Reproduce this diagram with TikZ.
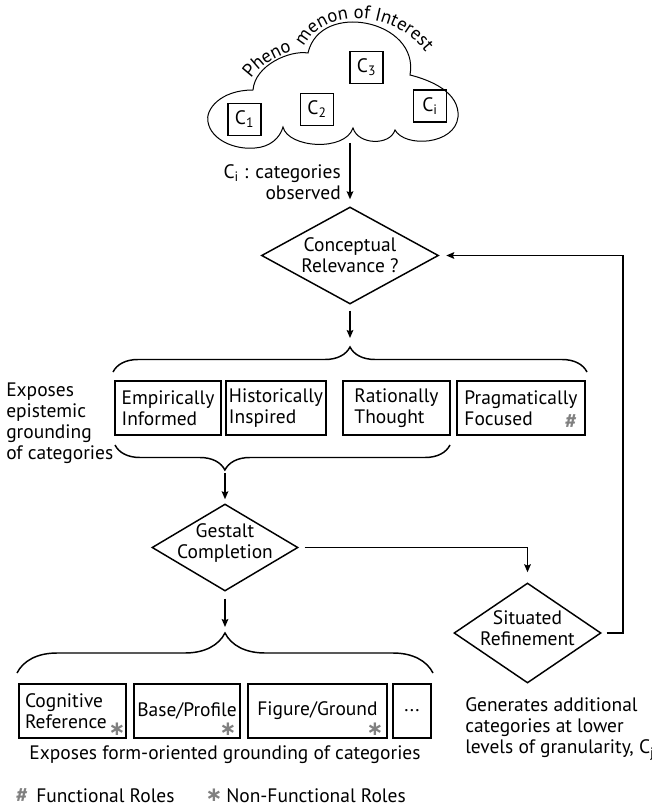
\documentclass[tikz,border=0pt]{standalone}
\usepackage{fontspec}
\setmainfont{PT Sans}
\newfontfamily\markfont{DejaVu Sans}
\usetikzlibrary{shapes.geometric, arrows.meta, decorations.pathreplacing, decorations.text}
\definecolor{markgray}{RGB}{128,128,128}
\newcommand{\cloudfont}{\fontsize{14}{15}\selectfont}

\begin{document}
\begin{tikzpicture}[x=0.75pt, y=-0.75pt,
    font=\fontsize{14.6}{15.75}\selectfont,
    decision/.style={diamond, draw, line width=1.1pt, inner sep=0pt},
    dlabel/.style={align=center, inner sep=0pt},
    block/.style={rectangle, draw, line width=1.1pt, minimum height=40.5pt, inner sep=0pt, align=left},
    catbox/.style={rectangle, draw, line width=1pt, minimum width=24.75pt, minimum height=24pt, inner sep=0pt},
    note/.style={inner sep=0pt},
    rolemark/.style={text=markgray, font=\fontsize{16}{16}\selectfont\bfseries, inner sep=0pt},
    astmark/.style={text=markgray, font=\markfont\fontsize{15}{15}\selectfont\bfseries, inner sep=0pt},
    line/.style={draw, line width=1.1pt, -{Stealth[length=6pt, width=5pt, inset=1pt]}},
    brace/.style={draw, line width=1.1pt, decorate, decoration={brace, amplitude=#1}}]
    \useasboundingbox (0,0) rectangle (652,809);

    % cloud of observed categories
    \draw[line width=0.75pt] (253,90) .. controls (220,90) and (205,110) .. (208,122)
        .. controls (211,140) and (235,150) .. (255,148)
        .. controls (270,147) and (280,138) .. (283,127)
        .. controls (288,148) and (345,152) .. (353,128)
        .. controls (358,145) and (390,146) .. (395,130)
        .. controls (405,148) and (455,145) .. (458,117)
        .. controls (460,92) and (430,80) .. (410,75)
        .. controls (420,20) and (320,0) .. (308,53)
        .. controls (290,50) and (255,65) .. (253,90) -- cycle;
    \path[decorate, decoration={text along path, text={|\cloudfont|Pheno}}]
        (251,79) .. controls (263,62) and (283,52) .. (306,48);
    \path[decorate, decoration={text along path, text={|\cloudfont|menon of Interest}}]
        (304,47) .. controls (320,10) and (395,5) .. (430,58);

    \node[catbox] (c_one) at (244.5,119.5) {C\textsubscript{1}};
    \node[catbox] (c_two) at (317,109.5) {C\textsubscript{2}};
    \node[catbox] (c_three) at (366.5,67.5) {C\textsubscript{3}};
    \node[catbox] (c_i) at (430,106) {C\textsubscript{i}};
    \coordinate (cloud_base) at (350,143);
    \node[note, align=right, anchor=east] (observed) at (341,182) {C\textsubscript{i} : categories\\observed};

    % decisions
    \node[decision, minimum width=132.75pt, minimum height=72.75pt] (concept) at (350,255.5) {};
    \node[dlabel] (concept_lbl) at (concept) {Conceptual\\Relevance ?};
    \node[decision, minimum width=109.5pt, minimum height=65.25pt] (gestalt) at (225,547.5) {};
    \node[dlabel] (gestalt_lbl) at (225,543.5) {Gestalt\\Completion};
    \node[decision, minimum width=110.25pt, minimum height=75pt] (situated) at (527.5,633) {};
    \node[dlabel] (situated_lbl) at (527.5,628) {Situated\\Refinement};

    % epistemic grounding
    \node[block, minimum width=79.5pt] (emp_informed) at (168,408) {Empirically\\Informed};
    \node[block, minimum width=75pt] (hist_inspired) at (276,408) {Historically\\Inspired};
    \node[block, minimum width=80.25pt] (rat_thought) at (396.5,408) {Rationally\\Thought};
    \node[block, minimum width=96pt] (prag_focused) at (521,408) {Pragmatically\\Focused};
    \node[rolemark] (prag_mark) at (571,422) {\#};
    \node[note, align=left, anchor=west] (epi_note) at (6,423) {Exposes\\epistemic\\grounding\\of categories};

    % form-oriented grounding
    \node[block, minimum width=80.25pt, text width=71.25pt] (cog_ref) at (72.5,711) {Cognitive\\Reference};
    \node[block, minimum width=79.5pt] (base_profile) at (187,711) {Base/Profile};
    \node[block, minimum width=104.25pt] (fig_ground) at (317.5,711) {Figure/Ground};
    \node[block, minimum width=28.5pt] (more_forms) at (412,711) {...};
    \node[astmark] (cog_mark) at (117,729) {∗};
    \node[astmark] (base_mark) at (228,729) {∗};
    \node[astmark] (fig_mark) at (375,729) {∗};
    \node[note] (form_note) at (225,755) {Exposes form-oriented grounding of categories};
    \node[note, align=left, anchor=west] (refine_note) at (465,729) {Generates additional\\categories at lower\\levels of granularity, C\textsubscript{j}};

    % legend
    \node[rolemark] (hash_key) at (22,796) {\#};
    \node[note, anchor=west] (func_key) at (36,796) {Functional Roles};
    \node[astmark] (ast_key) at (214,795) {∗};
    \node[note, anchor=west] (nonfunc_key) at (226,796) {Non-Functional Roles};

    % braces
    \coordinate (top_l) at (113,372);
    \coordinate (top_r) at (587,372);
    \coordinate (top_tip) at (350,347);
    \coordinate (mid_l) at (115,445);
    \coordinate (mid_r) at (450,445);
    \coordinate (mid_tip) at (225,470);
    \coordinate (low_l) at (17,673);
    \coordinate (low_r) at (433,673);
    \coordinate (low_tip) at (225,633);
    \coordinate (loop_corner) at (623,633);
    \draw[brace=18.75pt] (top_l) -- (top_r);
    \draw[brace=18.75pt, decoration={aspect=0.672}] (mid_r) -- (mid_l);
    \draw[brace=30pt] (low_l) -- (low_r);

    % flow
    \path[line, shorten >=5.25pt] (cloud_base) -- (concept.north);
    \path[line, shorten <=4.5pt, shorten >=6.75pt] (concept.south) -- (top_tip);
    \path[line, shorten <=2.25pt, shorten >=3pt] (mid_tip) -- (gestalt.north);
    \path[line, shorten <=5.25pt, shorten >=4.5pt] (gestalt.south) -- (low_tip);
    \path[line, shorten <=4.5pt, shorten >=7.5pt] (gestalt.east) -| (situated.north);
    \path[line, shorten <=3.75pt, shorten >=5.25pt] (situated.east) -- (loop_corner) |- (concept.east);
\end{tikzpicture}
\end{document}
